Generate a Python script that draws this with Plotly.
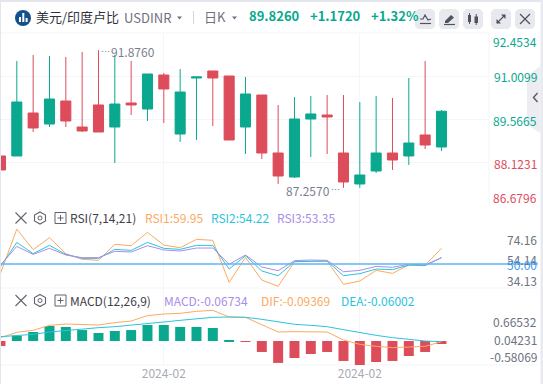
import plotly.graph_objects as go

W, H = 543, 384
GREEN, RED = "#0aa88f", "#dd4c5a"
ORANGE, CYAN, PURPLE, BLUE = "#fbaa62", "#2cc3dc", "#a98de8", "#5fb6f8"
GRID = "#f4f5f8"
FONT = "Noto Sans CJK SC, Noto Sans, sans-serif"

index = list(range(28))
open_ = [88.325, 88.325, 89.768, 89.399, 90.171, 89.298, 90.037, 89.298, 90.104, 89.902, 91.044, 89.063, 90.943, 91.178,
         91.010, 89.298, 90.372, 88.425, 87.620, 89.567, 89.701, 88.425, 87.385, 87.821, 88.425, 88.325, 89.030, 88.627]
high = [88.325, 91.514, 91.715, 91.682, 91.648, 91.816, 91.876, 91.715, 91.514, 91.077, 91.111, 91.245, 90.977, 91.178,
        91.010, 90.977, 90.372, 90.037, 90.305, 90.339, 90.372, 90.372, 90.137, 90.339, 90.272, 90.943, 91.514, 89.869]
low = [87.855, 88.325, 89.130, 89.298, 89.298, 89.130, 89.130, 88.090, 89.701, 89.500, 89.432, 88.795, 88.862, 89.332,
       88.862, 88.392, 88.224, 87.385, 87.586, 88.291, 88.392, 87.257, 87.257, 87.754, 87.855, 88.022, 88.560, 88.492]
close = [87.855, 90.137, 89.265, 90.238, 89.500, 89.164, 89.130, 90.070, 90.037, 91.077, 90.574, 90.473, 90.977, 90.943,
         88.862, 90.406, 88.425, 87.653, 89.567, 89.735, 89.634, 87.452, 87.687, 88.425, 88.190, 88.761, 88.694, 89.826]
price_ticks = [91.0099, 89.5665, 88.1231]

rsi1 = [40.9, 84.1, 64.0, 75.7, 60.1, 54.6, 53.6, 69.2, 67.9, 80.9, 68.5, 65.9, 74.1, 73.1,
        32.1, 56.5, 34.4, 28.2, 52.3, 52.9, 52.9, 30.2, 33.4, 43.8, 40.9, 49.0, 49.0, 65.3]
rsi2 = [47.4, 71.1, 60.1, 68.2, 59.4, 55.5, 55.5, 64.3, 63.3, 71.1, 65.3, 64.3, 68.2, 68.2,
        45.1, 58.1, 43.2, 38.6, 52.3, 52.9, 52.9, 38.6, 40.6, 45.1, 44.5, 49.0, 48.4, 56.2]
rsi3 = [49.0, 67.2, 59.4, 65.3, 58.8, 56.2, 56.2, 62.4, 61.7, 67.9, 63.7, 62.7, 65.6, 65.6,
        49.7, 58.8, 47.1, 43.5, 53.3, 53.9, 53.6, 42.5, 43.8, 47.7, 46.8, 49.7, 49.0, 56.2]
rsi_level = 50.0

macd = [-0.178, 0.19, 0.32, 0.534, 0.5, 0.39, 0.285, 0.356, 0.39, 0.57, 0.57, 0.5, 0.5, 0.463,
        0.03, -0.03, -0.39, -0.78, -0.605, -0.463, -0.39, -0.71, -0.855, -0.748, -0.71, -0.534, -0.39, -0.107]
dif = [0.119, 0.309, 0.380, 0.558, 0.605, 0.594, 0.570, 0.653, 0.712, 0.902, 0.961, 0.985, 1.056, 1.092,
       0.855, 0.843, 0.594, 0.320, 0.332, 0.332, 0.320, 0.036, -0.119, -0.190, -0.237, -0.214, -0.190, -0.024]
dea = [0.154, 0.190, 0.237, 0.320, 0.380, 0.439, 0.475, 0.510, 0.558, 0.629, 0.677, 0.736, 0.795, 0.843,
       0.855, 0.843, 0.772, 0.688, 0.594, 0.558, 0.510, 0.404, 0.297, 0.202, 0.119, 0.059, 0.0, -0.024]

month_ticks = [10, 22]
month_labels = ["2024-02", "2024-02"]


def px(x):
    return x / W


def py(y):
    return 1 - y / H


def dom(top, bottom):
    return [py(bottom), py(top)]


def path(points, close_it=False):
    s = "M" + " L".join(f"{px(x):.5f},{py(y):.5f}" for x, y in points)
    return s + (" Z" if close_it else "")


shapes = []


def poly(points, fill=None, line=None, lw=1.0, closed=True):
    shapes.append(dict(type="path", xref="paper", yref="paper", path=path(points, closed),
                       fillcolor=fill if fill else "rgba(0,0,0,0)",
                       line=dict(color=line if line else "rgba(0,0,0,0)", width=lw if line else 0), layer="above"))


def rect(x0, y0, x1, y1, fill, layer="above", line=None):
    shapes.append(dict(type="rect", xref="paper", yref="paper", x0=px(x0), x1=px(x1), y0=py(y0), y1=py(y1),
                       fillcolor=fill, line=dict(color=line if line else fill, width=1 if line else 0), layer=layer))


def seg(x0, y0, x1, y1, color, lw=1.0, layer="above"):
    shapes.append(dict(type="line", xref="paper", yref="paper", x0=px(x0), x1=px(x1), y0=py(y0), y1=py(y1),
                       line=dict(color=color, width=lw), layer=layer))


annotations = []


def text(x, y, s, color="#333", size=12, anchor="left", bold=False):
    shift = -1.5 if anchor == "left" else 1.5
    annotations.append(dict(xref="paper", yref="paper", x=px(x + shift), y=py(y - 0.5), text=f"<b>{s}</b>" if bold else s,
                            showarrow=False, xanchor=anchor, yanchor="middle",
                            font=dict(family=FONT, size=size, color=color)))


fig = go.Figure()
fig.add_trace(go.Candlestick(x=index, open=open_, high=high, low=low, close=close, xaxis="x", yaxis="y",
                             increasing=dict(line=dict(color=GREEN, width=1), fillcolor=GREEN),
                             decreasing=dict(line=dict(color=RED, width=1), fillcolor=RED),
                             whiskerwidth=0, hoverinfo="skip", showlegend=False))
for vals, col in ((rsi1, ORANGE), (rsi2, CYAN), (rsi3, PURPLE)):
    fig.add_trace(go.Scatter(x=index, y=vals, mode="lines", line=dict(color=col, width=1), xaxis="x2", yaxis="y2",
                             hoverinfo="skip", showlegend=False, cliponaxis=True))
fig.add_trace(go.Bar(x=index, y=macd, width=0.61, marker=dict(color=[GREEN if v > 0 else RED for v in macd], line=dict(width=0)),
                     xaxis="x3", yaxis="y3", hoverinfo="skip", showlegend=False))
for vals, col in ((dif, ORANGE), (dea, CYAN)):
    fig.add_trace(go.Scatter(x=index, y=vals, mode="lines", line=dict(color=col, width=1), xaxis="x3", yaxis="y3",
                             hoverinfo="skip", showlegend=False))

XR = [-0.03, 29.91]
xcommon = dict(range=XR, domain=[0, 489 / W], tickmode="array", tickvals=month_ticks, showgrid=True, gridcolor=GRID,
               gridwidth=1, zeroline=False, showline=False, ticks="", fixedrange=True)

# panel furniture
shapes.append(dict(type="line", xref="paper", yref="y2", x0=0, x1=px(538), y0=rsi_level, y1=rsi_level,
                   line=dict(color=BLUE, width=1.5), layer="above"))
seg(0, 33, 489, 33, GRID, 1, "below")
seg(489, 33, 489, 205, GRID, 1, "below")
seg(0, 288, 538, 288, GRID, 1, "below")
seg(0, 365, 538, 365, GRID, 1, "below")

# window frame
rect(0, 0, W, 2, "#e4e6ee")
rect(0, 0, 1, H, "#e4e6ee")
rect(540.5, 0, W, H, "#e9eaf0")

# logo
shapes.append(dict(type="circle", xref="paper", yref="paper", x0=px(15), x1=px(31), y0=py(26), y1=py(10),
                   fillcolor="#14508c", line=dict(width=0), layer="above"))
rect(19, 17, 21, 22, "#ffffff")
rect(22.3, 13, 24.3, 22, "#ffffff")
rect(25.6, 18, 27.6, 22, "#ffffff")

# header buttons
for x0, x1 in ((415, 435), (439, 459), (463, 483), (491, 511), (515, 535)):
    shapes.append(dict(type="path", xref="paper", yref="paper",
                       path=path([(x0 + 3, 9), (x1 - 3, 9), (x1, 12), (x1, 26), (x1 - 3, 29), (x0 + 3, 29), (x0, 26), (x0, 12)], True),
                       fillcolor="#e7e9ef", line=dict(width=0), layer="above"))
IC = "#50535e"
poly([(420, 19), (423, 19), (425, 15), (428, 20), (431, 19)], line=IC, lw=1.2, closed=False)
seg(420, 23.5, 431, 23.5, IC, 1.2)
poly([(445, 21), (451, 15), (454, 17.5), (448, 23), (445, 23)], fill=IC)
seg(444, 24.5, 455, 24.5, IC, 1.2)
rect(468, 15, 471, 22, IC)
seg(469.5, 13, 469.5, 24, IC, 1)
rect(474.5, 16.5, 478, 23, IC)
seg(476.2, 14, 476.2, 25, IC, 1)
seg(497, 23, 505, 15, IC, 1.1)
poly([(501, 14.5), (505.5, 14.5), (505.5, 19)], fill=IC)
poly([(496.5, 19), (496.5, 23.5), (501, 23.5)], fill=IC)
seg(520, 14, 530, 24, IC, 1.2)
seg(530, 14, 520, 24, IC, 1.2)

# collapse tab
poly([(540.5, 66), (527, 76), (527, 125), (540.5, 133)], fill="#ececf1")
poly([(537.5, 93), (533.5, 97.5), (537.5, 102)], line="#5d606b", lw=1.5, closed=False)

# header text
text(35, 17, "美元/印度卢比", "#30333a", 13)
text(123, 18, "USDINR", "#6e7280", 13)
poly([(177, 16.5), (182, 16.5), (179.5, 19.5)], fill="#6e7280")
seg(193.5, 11, 193.5, 24, "#d4d6dc", 1)
text(203, 17, "日K", "#6e7280", 13)
poly([(232, 16.5), (237, 16.5), (234.5, 19.5)], fill="#6e7280")
text(248, 16.5, "89.8260", GREEN, 13, bold=True)
text(309, 16.5, "+1.1720", GREEN, 13, bold=True)
text(370, 16.5, "+1.32%", GREEN, 13, bold=True)

# price labels
for y, s, c in ((41.5, "92.4534", GREEN), (77.3, "91.0099", GREEN), (121, "89.5665", GREEN),
                (164.5, "88.1231", RED), (197.8, "86.6796", RED)):
    text(537.5, y, s, c, 12, "right")
text(100, 52.5, "⋯", "#7b8090", 9)
text(110, 52.5, "91.8760", "#7b8090", 12)
text(285, 191.5, "87.2570", "#7b8090", 12)
text(330, 189.5, "⋯", "#7b8090", 9)

# pane controls
for cy, label, items in (
    (218, "RSI(7,14,21)", [(144, "RSI1:59.95", ORANGE), (210, "RSI2:54.22", CYAN), (276, "RSI3:53.35", PURPLE)]),
    (300.5, "MACD(12,26,9)", [(163, "MACD:-0.06734", PURPLE), (260, "DIF:-0.09369", ORANGE), (340, "DEA:-0.06002", CYAN)]),
):
    seg(15.5, cy - 5.5, 26.5, cy + 5.5, "#60636e", 1.1)
    seg(26.5, cy - 5.5, 15.5, cy + 5.5, "#60636e", 1.1)
    poly([(40, cy - 6), (45.5, cy - 3), (45.5, cy + 3), (40, cy + 6), (34.5, cy + 3), (34.5, cy - 3)], line="#60636e", lw=1.1)
    shapes.append(dict(type="circle", xref="paper", yref="paper", x0=px(38), x1=px(42), y0=py(cy + 2), y1=py(cy - 2),
                       line=dict(color="#60636e", width=1), layer="above"))
    rect(55, cy - 5.5, 66, cy + 5.5, "rgba(0,0,0,0)", line="#60636e")
    seg(57.5, cy, 63.5, cy, "#60636e", 1)
    seg(60.5, cy - 3, 60.5, cy + 3, "#60636e", 1)
    text(69.5, cy, label, "#3d4048", 12)
    for x, s, c in items:
        text(x, cy, s, c, 12)

for y, s, c in ((240, "74.16", "#6e7280"), (260, "54.14", "#6e7280"), (265, "50.00", "#3f9bf0"), (281, "34.13", "#6e7280"),
                (322.3, "0.66532", "#6e7280"), (340, "0.04231", "#6e7280"), (357, "-0.58069", "#6e7280")):
    text(537.5, y, s, c, 12, "right")

fig.update_layout(
    width=W, height=H, autosize=False, margin=dict(l=0, r=0, t=0, b=0, pad=0),
    paper_bgcolor="#ffffff", plot_bgcolor="#ffffff", showlegend=False, boxgap=0.12, bargap=0.39, dragmode=False,
    font=dict(family=FONT),
    xaxis=dict(anchor="y", ticktext=["", ""], rangeslider=dict(visible=False), **xcommon),
    xaxis2=dict(anchor="y2", ticktext=["", ""], **xcommon),
    xaxis3=dict(anchor="y3", ticktext=month_labels, tickfont=dict(family=FONT, size=12, color="#a8abb5"), **xcommon),
    yaxis=dict(domain=dom(33, 205), range=[86.6796, 92.4534], tickmode="array", tickvals=price_ticks, showticklabels=False,
               showgrid=True, gridcolor=GRID, zeroline=False, ticks="", fixedrange=True),
    yaxis2=dict(domain=dom(205, 288), range=[26.6, 107.6], showticklabels=False, showgrid=False, zeroline=False, ticks="", fixedrange=True),
    yaxis3=dict(domain=dom(288, 365), range=[-0.854, 1.887], showticklabels=False, showgrid=False, zeroline=False, ticks="", fixedrange=True),
    shapes=shapes, annotations=annotations,
)
fig.write_html("out.html", config=dict(displayModeBar=False, responsive=False),
               post_script="document.body.style.margin='0';document.body.style.overflow='hidden';")
